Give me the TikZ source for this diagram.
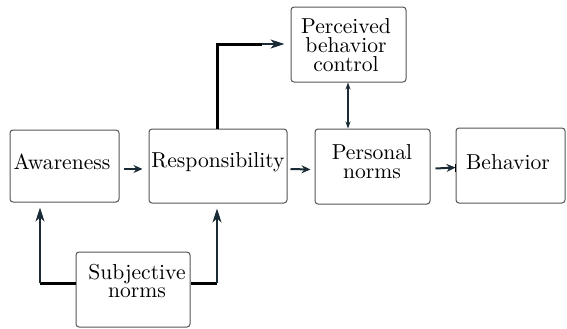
\documentclass[tikz,border=0pt]{standalone}
\usetikzlibrary{arrows.meta}
\definecolor{navy}{HTML}{1B2B36}
\definecolor{boxline}{HTML}{555555}
\tikzset{
  box/.style={draw=boxline, line width=0.5pt, rounded corners=1.5pt, inner sep=0pt},
  lbl/.style={align=center, font=\fontsize{10.8}{9.4}\selectfont, inner sep=0pt},
  arr/.style={draw=navy, line width=1pt, -{Stealth[length=4.5pt,width=4pt]}},
  longarr/.style={draw=navy, line width=1pt, -{Stealth[length=7pt,width=4.5pt,inset=2pt]}},
  thick line/.style={draw=black, line width=1.5pt},
  dbl/.style={draw=navy, line width=0.8pt, {Stealth[length=3.5pt,width=2.5pt]}-{Stealth[length=3.5pt,width=2.5pt]}}
}
\begin{document}
\begin{tikzpicture}[x=0.5pt,y=-0.5pt]
\useasboundingbox (0,0) rectangle (567,328);
% boxes
\node[box, minimum width=54.5pt, minimum height=36pt] (aw) at (64.5,166) {};
\node[box, minimum width=69pt, minimum height=37pt] (re) at (218,166) {};
\node[box, minimum width=57.5pt, minimum height=37.5pt] (pn) at (372.5,166.5) {};
\node[box, minimum width=54.5pt, minimum height=37.5pt] (be) at (510.5,165.5) {};
\node[box, minimum width=57.5pt, minimum height=37.5pt] (pb) at (348.5,44.5) {};
\node[box, minimum width=57pt, minimum height=37.5pt] (sn) at (133,289.5) {};
% texts
\node[lbl] (awt) at (62,162) {Awareness};
\node[lbl] (ret) at (218,162) {Responsibility};
\node[lbl] (pnt) at (372,162) {Personal\\norms};
\node[lbl] (bet) at (508,162) {Behavior};
\node[lbl] (pbt) at (346,45) {Perceived\\behavior\\control};
\node[lbl] (snt) at (137,281) {Subjective\\norms};
% horizontal arrows
\draw[arr] ([xshift=2pt,yshift=-1.5pt]aw.east) -- ([xshift=-3pt,yshift=-1.5pt]re.west);
\draw[arr] ([xshift=1.5pt,yshift=-1.5pt]re.east) -- ([xshift=-2pt,yshift=-1.5pt]pn.west);
\draw[arr] ([xshift=2.5pt,yshift=-1pt]pn.east) -- ([yshift=-1pt]be.west);
\draw[draw=black, line width=0.8pt] ([yshift=1pt]be.west) -- ([yshift=-3pt]be.west);
% responsibility to perceived control
\coordinate (c1) at (217,44);
\coordinate (c2) at (262,44);
\draw[thick line] (re.north -| c1) -- (c1) -- (c2);
\draw[longarr] (c2) -- ([xshift=-3pt]pb.west |- c2);
% perceived <-> personal
\draw[dbl] (pb.south -| 348,0) -- (pn.north -| 348,0);
% subjective norms
\coordinate (l1) at (40,283);
\coordinate (r1) at (217,283);
\draw[thick line] (sn.west |- l1) -- (l1);
\draw[thick line] (sn.east |- r1) -- (r1);
\draw[longarr] (l1) -- ([yshift=-2.5pt]aw.south -| l1);
\draw[longarr] (r1) -- ([yshift=-2.5pt]re.south -| r1);
\end{tikzpicture}
\end{document}
